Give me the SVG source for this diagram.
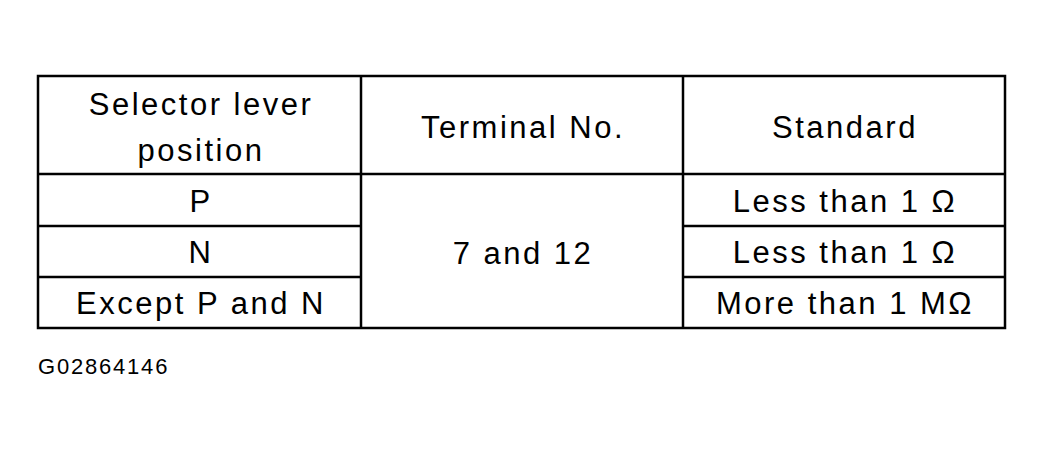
<svg xmlns="http://www.w3.org/2000/svg" width="1044" height="449" viewBox="0 0 1044 449">
<style>
.l{stroke:#000;stroke-width:2.5;fill:none}
text{font-family:"Liberation Sans",Arial,sans-serif;font-size:31px;letter-spacing:2.5px;fill:#000;text-anchor:middle}
</style>
<rect width="1044" height="449" fill="#fff"/>
<g id="table">
<rect class="l" x="38" y="76" width="967" height="252"/>
<line class="l" x1="361" y1="76" x2="361" y2="328"/>
<line class="l" x1="683" y1="76" x2="683" y2="328"/>
<line class="l" x1="38" y1="174" x2="1005" y2="174"/>
<line class="l" x1="38" y1="226" x2="361" y2="226"/>
<line class="l" x1="683" y1="226" x2="1005" y2="226"/>
<line class="l" x1="38" y1="277" x2="361" y2="277"/>
<line class="l" x1="683" y1="277" x2="1005" y2="277"/>
</g>
<g id="texts">
<text x="201" y="115">Selector lever</text>
<text x="201" y="161">position</text>
<text x="523" y="138">Terminal No.</text>
<text x="845" y="138">Standard</text>
<text x="201" y="212">P</text>
<text x="201" y="263">N</text>
<text x="201" y="314">Except P and N</text>
<text x="523" y="264">7 and 12</text>
<text x="845" y="212">Less than 1 Ω</text>
<text x="845" y="263">Less than 1 Ω</text>
<text x="845" y="314">More than 1 MΩ</text>
<text x="38" y="374" style="font-size:22px;letter-spacing:1.8px;text-anchor:start">G02864146</text>
</g>
</svg>
